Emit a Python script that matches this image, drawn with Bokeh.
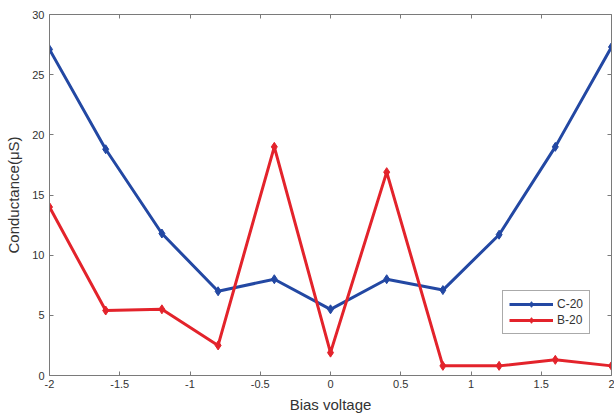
from bokeh.plotting import figure
from bokeh.models import Range1d, FixedTicker, LinearAxis, Legend, LegendItem
from bokeh.embed import file_html
from bokeh.resources import INLINE

bias = [-2, -1.6, -1.2, -0.8, -0.4, 0, 0.4, 0.8, 1.2, 1.6, 2]
c20 = [27.1, 18.8, 11.8, 7.0, 8.0, 5.5, 8.0, 7.1, 11.7, 19.0, 27.3]
b20 = [14.0, 5.4, 5.5, 2.5, 19.0, 1.9, 16.9, 0.8, 0.8, 1.3, 0.8]
x_ticks = [-2, -1.5, -1, -0.5, 0, 0.5, 1, 1.5, 2]
y_ticks = [0, 5, 10, 15, 20, 25, 30]
x_labels = ["-2", "-1.5", "-1", "-0.5", "0", "0.5", "1", "1.5", "2"]

BLUE = "#2348a3"
RED = "#e3232b"
FONT = "Liberation Sans"
AXC = "#7a7a7a"

p = figure(width=614, height=416, output_backend="svg", toolbar_location=None,
           x_range=Range1d(-2, 2), y_range=Range1d(0, 30),
           min_border_left=49, min_border_right=3, min_border_top=14, min_border_bottom=41)
p.grid.visible = False
p.outline_line_color = None
p.background_fill_color = "white"

for ax in [p.xaxis[0], p.yaxis[0]]:
    ax.axis_line_color = AXC
    ax.major_tick_line_color = AXC
    ax.major_tick_in = 4
    ax.major_tick_out = 0
    ax.minor_tick_line_color = None
    ax.major_label_text_font = FONT
    ax.major_label_text_font_size = "11px"
    ax.major_label_text_color = "#333333"
    ax.axis_label_text_font = FONT
    ax.axis_label_text_font_size = "15px"
    ax.axis_label_text_font_style = "normal"
    ax.axis_label_text_color = "#333333"

p.xaxis.ticker = FixedTicker(ticks=x_ticks)
p.yaxis.ticker = FixedTicker(ticks=y_ticks)
p.xaxis.major_label_overrides = dict(zip(x_ticks, x_labels))
p.xaxis.axis_label = "Bias voltage"
p.yaxis.axis_label = "Conductance(\u03bcS)"
p.xaxis.major_label_standoff = 4
p.yaxis.major_label_standoff = 5
p.xaxis.axis_label_standoff = 5
p.yaxis.axis_label_standoff = 7

top = LinearAxis(ticker=FixedTicker(ticks=x_ticks),
                 major_label_overrides={t: "" for t in x_ticks},
                 axis_line_color=AXC, major_tick_line_color=AXC,
                 major_tick_in=4, major_tick_out=0, minor_tick_line_color=None,
                 major_label_standoff=0)
right = LinearAxis(ticker=FixedTicker(ticks=y_ticks),
                   major_label_overrides={t: "" for t in y_ticks},
                   axis_line_color=AXC, major_tick_line_color=AXC,
                   major_tick_in=4, major_tick_out=0, minor_tick_line_color=None,
                   major_label_standoff=0)
p.add_layout(top, "above")
p.add_layout(right, "right")

l1 = p.line(bias, c20, line_color=BLUE, line_width=3)
m1 = p.scatter(bias, c20, marker="diamond", size=9, fill_color=BLUE, line_color=BLUE)
l2 = p.line(bias, b20, line_color=RED, line_width=3)
m2 = p.scatter(bias, b20, marker="diamond", size=9, fill_color=RED, line_color=RED)

legend = Legend(items=[LegendItem(label="C-20", renderers=[l1, m1]),
                       LegendItem(label="B-20", renderers=[l2, m2])],
                location=(453, 41), orientation="vertical",
                label_text_font=FONT, label_text_font_size="12px", label_text_color="#333333",
                border_line_color="#555555", border_line_width=1,
                background_fill_color="white", background_fill_alpha=1,
                glyph_width=44, glyph_height=14, spacing=2, padding=6, margin=0,
                label_standoff=4)
p.add_layout(legend, "center")

open("out.html", "w").write(file_html(p, INLINE))
